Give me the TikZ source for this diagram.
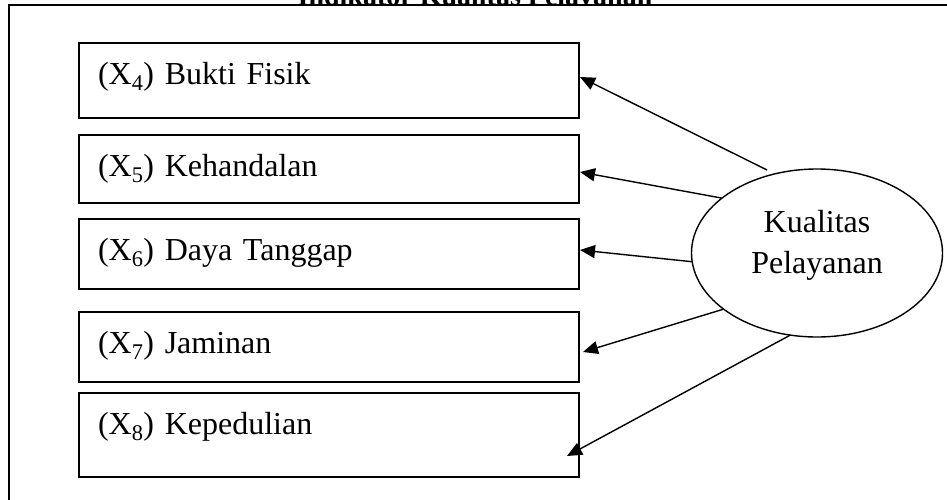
\documentclass[tikz,border=0pt]{standalone}
\usepackage{fontspec}
\setmainfont{Liberation Serif}
\usetikzlibrary{arrows.meta,shapes.geometric}
\begin{document}
\begin{tikzpicture}[x=1pt,y=-1pt,
  boxnode/.style={draw, line width=1.6pt, anchor=north west, outer sep=0pt,
    inner xsep=19pt, inner ysep=0pt, text width=462pt, align=left,
    text height=41pt, font=\fontsize{32}{38}\selectfont},
  arr/.style={line width=1.4pt, -{Triangle[length=15pt,width=13pt]}}]
\useasboundingbox (0,0) rectangle (947,499);
\clip (0,0) rectangle (947,499);
\node[anchor=base, font=\fontsize{28}{32}\selectfont\bfseries] (title) at (475,5) {Indikator Kualitas Pelayanan};
\draw[line width=1.6pt, fill=white] (980,5) -- (9,5) -- (9,520) -- (980,520);
\node[boxnode, text depth=34pt] (b1) at (79,43) {(X\textsubscript{4}) Bukti Fisik};
\node[boxnode, text depth=27pt] (b2) at (79,135) {(X\textsubscript{5}) Kehandalan};
\node[boxnode, text depth=29pt] (b3) at (79,219) {(X\textsubscript{6}) Daya Tanggap};
\node[boxnode, text depth=29pt] (b4) at (79,312) {(X\textsubscript{7}) Jaminan};
\node[boxnode, text depth=43pt] (b5) at (79,393) {(X\textsubscript{8}) Kepedulian};
\node[draw, ellipse, line width=1.4pt, minimum width=251pt, minimum height=168pt, inner sep=0pt, outer sep=0pt] (kp) at (817,253) {};
\node[align=center, font=\fontsize{32}{41}\selectfont] (kptext) at (817,245) {Kualitas\\Pelayanan};
\coordinate (s1) at (767,170);
\coordinate (t1) at (580,77);
\coordinate (t2) at (580,172);
\coordinate (t3) at (580,250);
\coordinate (t4) at (583,352);
\coordinate (t5) at (567,456);
\draw[arr] (s1) -- (t1);
\draw[arr] (kp.150.4) -- (t2);
\draw[arr] (kp.184.6) -- (t3);
\draw[arr] (kp.211.8) -- (t4);
\draw[arr] (kp.252.2) -- (t5);
\end{tikzpicture}
\end{document}
